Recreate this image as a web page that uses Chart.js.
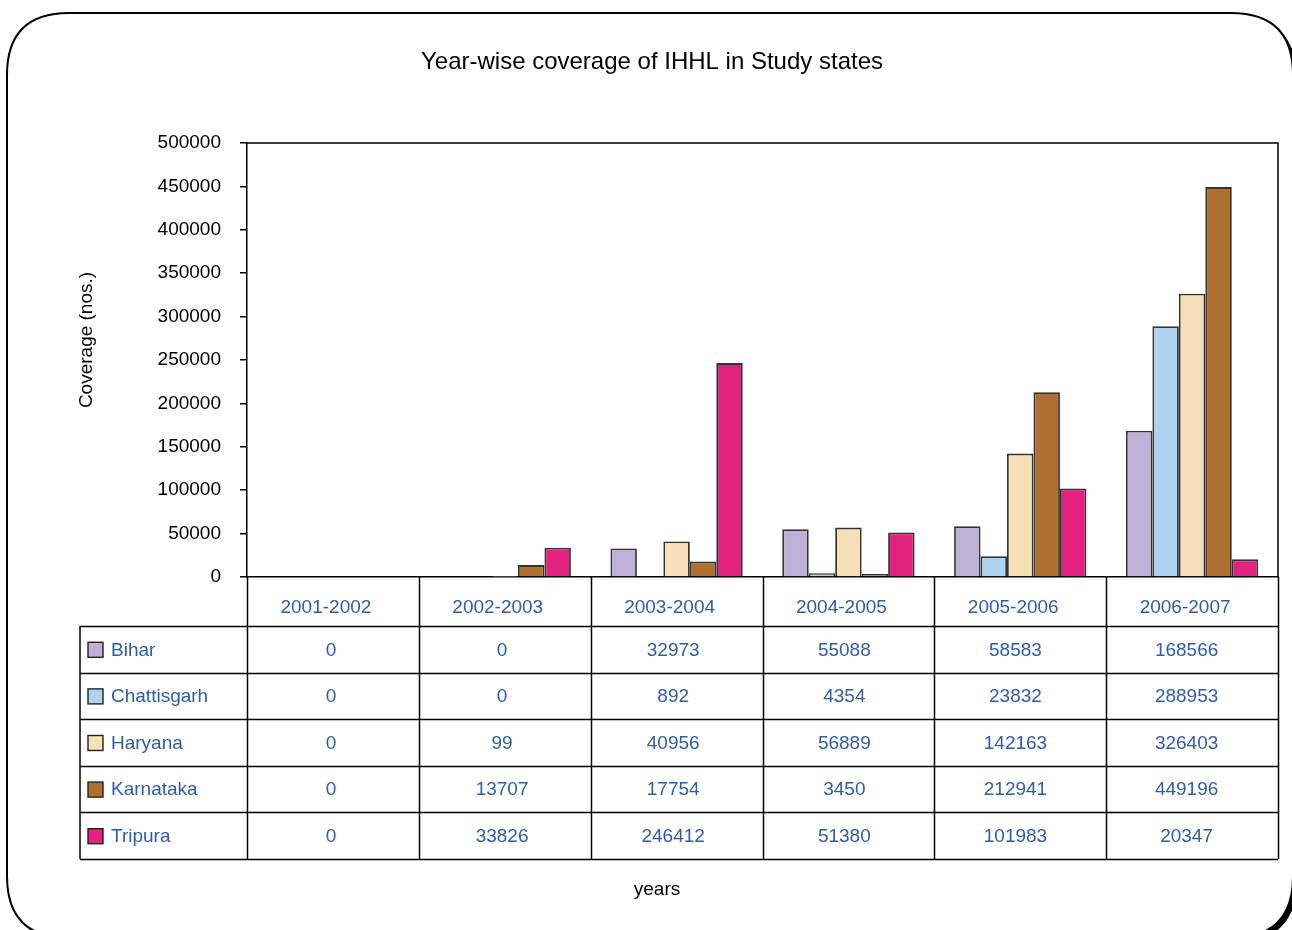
<!DOCTYPE html>
<html>
<head>
<meta charset="utf-8">
<script src="https://cdn.jsdelivr.net/npm/chart.js@4/dist/chart.umd.min.js"></script>
<style>
  html, body { margin: 0; padding: 0; background: #fff; }
  #wrap { width: 1292px; height: 930px; }
</style>
</head>
<body>
<div id="wrap"><canvas id="myChart" width="1292" height="930"></canvas></div>
<script>
const years = ['2001-2002', '2002-2003', '2003-2004', '2004-2005', '2005-2006', '2006-2007'];
const bihar = [0, 0, 32973, 55088, 58583, 168566];
const chattisgarh = [0, 0, 892, 4354, 23832, 288953];
const haryana = [0, 99, 40956, 56889, 142163, 326403];
const karnataka = [0, 13707, 17754, 3450, 212941, 449196];
const tripura = [0, 33826, 246412, 51380, 101983, 20347];

const states = ['Bihar', 'Chattisgarh', 'Haryana', 'Karnataka', 'Tripura'];
const colors = ['#BDB2D6', '#AED3EE', '#F7E0B8', '#B07030', '#E3217F'];
const series = [bihar, chattisgarh, haryana, karnataka, tripura];

const FONT = '"Liberation Sans", Arial, sans-serif';
const BLUE = '#2F5DA6';

function roundRect(ctx, x, y, w, h, r) {
  ctx.beginPath();
  ctx.moveTo(x + r, y);
  ctx.lineTo(x + w - r, y);
  ctx.quadraticCurveTo(x + w, y, x + w, y + r);
  ctx.lineTo(x + w, y + h - r);
  ctx.quadraticCurveTo(x + w, y + h, x + w - r, y + h);
  ctx.lineTo(x + r, y + h);
  ctx.quadraticCurveTo(x, y + h, x, y + h - r);
  ctx.lineTo(x, y + r);
  ctx.quadraticCurveTo(x, y, x + r, y);
  ctx.closePath();
}

// frame, titles, plot box and data table
const decor = {
  id: 'decor',
  beforeDraw(chart) {
    const ctx = chart.ctx;
    ctx.save();
    ctx.fillStyle = '#fff';
    ctx.fillRect(0, 0, chart.width, chart.height);
    ctx.fillStyle = '#000';
    roundRect(ctx, 11, 17, 1286, 925, 62);
    ctx.fill();
    ctx.fillStyle = '#fff';
    roundRect(ctx, 7, 13, 1286, 925, 62);
    ctx.fill();
    ctx.lineWidth = 2;
    ctx.strokeStyle = '#000';
    ctx.stroke();

    ctx.fillStyle = '#000';
    ctx.textAlign = 'center';
    ctx.textBaseline = 'middle';
    ctx.font = '24px ' + FONT;
    ctx.fillText('Year-wise coverage of IHHL in Study states', 652, 62);
    ctx.font = '19px ' + FONT;
    ctx.fillText('years', 657, 890);
    ctx.save();
    ctx.translate(87, 340);
    ctx.rotate(-Math.PI / 2);
    ctx.fillText('Coverage (nos.)', 0, 0);
    ctx.restore();
    ctx.restore();
  },
  afterDraw(chart) {
    const ctx = chart.ctx;
    const a = chart.chartArea;
    const x = chart.scales.x;
    const colW = x.width / years.length;
    const rowTop = 626, rowH = 46.6, left = 80;
    const bottom = rowTop + rowH * states.length;
    ctx.save();
    ctx.strokeStyle = '#000';
    ctx.lineWidth = 1.5;
    // plot box top and right
    ctx.beginPath();
    ctx.moveTo(a.left, a.top); ctx.lineTo(a.right, a.top); ctx.lineTo(a.right, a.bottom);
    ctx.stroke();
    // table grid
    ctx.beginPath();
    for (let i = 0; i <= years.length; i++) {
      const px = Math.round(a.left + i * colW) + 0.5;
      ctx.moveTo(px, a.bottom); ctx.lineTo(px, bottom);
    }
    ctx.moveTo(left, rowTop); ctx.lineTo(left, bottom);
    for (let r = 0; r <= states.length; r++) {
      const py = Math.round(rowTop + r * rowH) + 0.5;
      ctx.moveTo(left, py); ctx.lineTo(a.right, py);
    }
    ctx.stroke();
    // rows
    ctx.font = '19px ' + FONT;
    ctx.textBaseline = 'middle';
    states.forEach((s, r) => {
      const cy = rowTop + r * rowH + rowH / 2;
      ctx.fillStyle = colors[r];
      ctx.fillRect(88, cy - 7, 15, 15);
      ctx.lineWidth = 1.4;
      ctx.strokeStyle = '#222';
      ctx.strokeRect(88, cy - 7, 15, 15);
      ctx.fillStyle = BLUE;
      ctx.textAlign = 'left';
      ctx.fillText(s, 111, cy + 1);
      ctx.textAlign = 'center';
      series[r].forEach((v, i) => {
        ctx.fillText(String(v), x.getPixelForValue(i) - 2 - i * 0.7, cy + 1);
      });
    });
    ctx.restore();
  }
};

new Chart(document.getElementById('myChart'), {
  type: 'bar',
  data: {
    labels: years,
    datasets: states.map((s, i) => ({
      label: s,
      data: series[i],
      backgroundColor: colors[i],
      borderColor: '#333',
      borderWidth: 1.8
    }))
  },
  options: {
    responsive: false,
    animation: false,
    layout: { padding: { left: 70, top: 143, right: 14, bottom: 303 } },
    datasets: { bar: { categoryPercentage: 0.77, barPercentage: 1 } },
    plugins: { legend: { display: false }, tooltip: { enabled: false } },
    scales: {
      x: {
        grid: { display: false },
        border: { color: '#000', width: 1.5 },
        ticks: { color: BLUE, font: { family: FONT, size: 19 }, padding: 11, labelOffset: -7, maxRotation: 0 },
        afterFit(s) { s.height = 50; }
      },
      y: {
        min: 0,
        max: 500000,
        ticks: {
          stepSize: 50000,
          color: '#000',
          font: { family: FONT, size: 19 },
          padding: 19,
          callback: v => String(v)
        },
        grid: { drawOnChartArea: false, drawTicks: true, tickLength: 7, color: '#000', lineWidth: 1.5 },
        border: { color: '#000', width: 1.5 },
        afterFit(s) { s.width = 177; }
      }
    }
  },
  plugins: [decor]
});
</script>
</body>
</html>
